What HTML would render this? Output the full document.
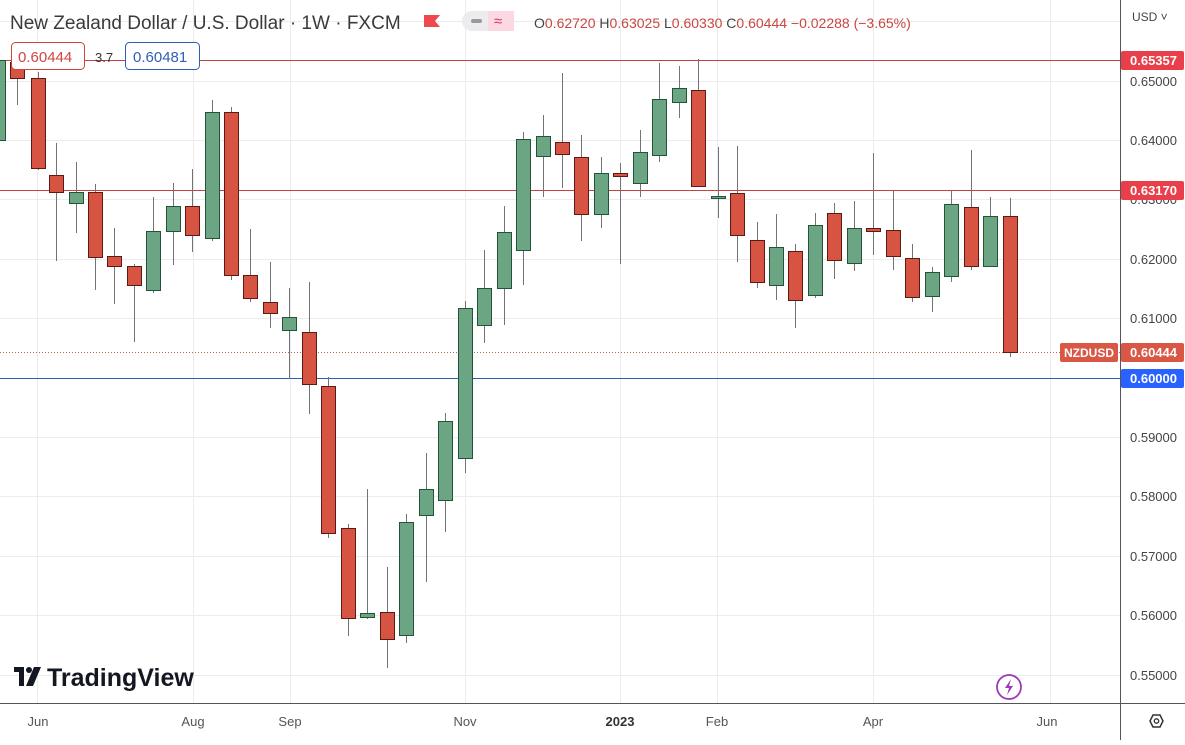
<!DOCTYPE html>
<html><head><meta charset="utf-8"><style>
html,body{margin:0;padding:0;background:#fff;}
body{width:1185px;height:740px;overflow:hidden;font-family:"Liberation Sans",sans-serif;}
.w line{stroke:#737375;stroke-width:1}
.g{fill:#6ba583;stroke:#225437;stroke-width:1}
.r{fill:#d75442;stroke:#5b1a13;stroke-width:1}
</style></head><body>
<svg width="1185" height="740" viewBox="0 0 1185 740" xmlns="http://www.w3.org/2000/svg" font-family="Liberation Sans, sans-serif">
<rect width="1185" height="740" fill="#fff"/>
<g stroke="#ececee" stroke-width="1">
<line x1="0" y1="21.5" x2="1120" y2="21.5"/>
<line x1="0" y1="81.5" x2="1120" y2="81.5"/>
<line x1="0" y1="140.5" x2="1120" y2="140.5"/>
<line x1="0" y1="199.5" x2="1120" y2="199.5"/>
<line x1="0" y1="259.5" x2="1120" y2="259.5"/>
<line x1="0" y1="318.5" x2="1120" y2="318.5"/>
<line x1="0" y1="437.5" x2="1120" y2="437.5"/>
<line x1="0" y1="496.5" x2="1120" y2="496.5"/>
<line x1="0" y1="556.5" x2="1120" y2="556.5"/>
<line x1="0" y1="615.5" x2="1120" y2="615.5"/>
<line x1="0" y1="675.5" x2="1120" y2="675.5"/>
<line x1="37.5" y1="0" x2="37.5" y2="703"/>
<line x1="193.5" y1="0" x2="193.5" y2="703"/>
<line x1="290.5" y1="0" x2="290.5" y2="703"/>
<line x1="465.5" y1="0" x2="465.5" y2="703"/>
<line x1="620.5" y1="0" x2="620.5" y2="703"/>
<line x1="717.5" y1="0" x2="717.5" y2="703"/>
<line x1="873.5" y1="0" x2="873.5" y2="703"/>
<line x1="1050.5" y1="0" x2="1050.5" y2="703"/>
</g>
<line x1="0" y1="60.5" x2="1120" y2="60.5" stroke="#c8403f" stroke-width="1"/>
<line x1="0" y1="190.5" x2="1120" y2="190.5" stroke="#c8403f" stroke-width="1"/>
<line x1="0" y1="378.5" x2="1120" y2="378.5" stroke="#2f5fb3" stroke-width="1"/>
<line x1="0" y1="352.5" x2="1120" y2="352.5" stroke="#c0614e" stroke-width="1" stroke-dasharray="1,2"/>
<g class="w">
<line x1="-1.5" y1="45" x2="-1.5" y2="145"/>
<line x1="17.5" y1="52" x2="17.5" y2="105"/>
<line x1="38.5" y1="72" x2="38.5" y2="170"/>
<line x1="56.5" y1="143" x2="56.5" y2="261"/>
<line x1="76.5" y1="162" x2="76.5" y2="233"/>
<line x1="95.5" y1="184" x2="95.5" y2="290"/>
<line x1="114.5" y1="228" x2="114.5" y2="304"/>
<line x1="134.5" y1="264" x2="134.5" y2="342"/>
<line x1="153.5" y1="197" x2="153.5" y2="293"/>
<line x1="173.5" y1="183" x2="173.5" y2="265"/>
<line x1="192.5" y1="169" x2="192.5" y2="252"/>
<line x1="212.5" y1="100" x2="212.5" y2="241"/>
<line x1="231.5" y1="107" x2="231.5" y2="280"/>
<line x1="250.5" y1="229" x2="250.5" y2="302"/>
<line x1="270.5" y1="262" x2="270.5" y2="328"/>
<line x1="289.5" y1="288" x2="289.5" y2="379"/>
<line x1="309.5" y1="282" x2="309.5" y2="414"/>
<line x1="328.5" y1="377" x2="328.5" y2="538"/>
<line x1="348.5" y1="524" x2="348.5" y2="636"/>
<line x1="367.5" y1="489" x2="367.5" y2="619"/>
<line x1="387.5" y1="567" x2="387.5" y2="668"/>
<line x1="406.5" y1="514" x2="406.5" y2="643"/>
<line x1="426.5" y1="453" x2="426.5" y2="582"/>
<line x1="445.5" y1="413" x2="445.5" y2="532"/>
<line x1="465.5" y1="301" x2="465.5" y2="473"/>
<line x1="484.5" y1="250" x2="484.5" y2="343"/>
<line x1="504.5" y1="206" x2="504.5" y2="325"/>
<line x1="523.5" y1="132" x2="523.5" y2="285"/>
<line x1="543.5" y1="115" x2="543.5" y2="197"/>
<line x1="562.5" y1="73" x2="562.5" y2="188"/>
<line x1="581.5" y1="135" x2="581.5" y2="241"/>
<line x1="601.5" y1="157" x2="601.5" y2="228"/>
<line x1="620.5" y1="163" x2="620.5" y2="264"/>
<line x1="640.5" y1="130" x2="640.5" y2="197"/>
<line x1="659.5" y1="63" x2="659.5" y2="162"/>
<line x1="679.5" y1="66" x2="679.5" y2="118"/>
<line x1="698.5" y1="59" x2="698.5" y2="186"/>
<line x1="718.5" y1="147" x2="718.5" y2="218"/>
<line x1="737.5" y1="146" x2="737.5" y2="262"/>
<line x1="757.5" y1="222" x2="757.5" y2="288"/>
<line x1="776.5" y1="214" x2="776.5" y2="300"/>
<line x1="795.5" y1="244" x2="795.5" y2="328"/>
<line x1="815.5" y1="213" x2="815.5" y2="298"/>
<line x1="834.5" y1="203" x2="834.5" y2="279"/>
<line x1="854.5" y1="201" x2="854.5" y2="271"/>
<line x1="873.5" y1="153" x2="873.5" y2="255"/>
<line x1="893.5" y1="190" x2="893.5" y2="270"/>
<line x1="912.5" y1="244" x2="912.5" y2="302"/>
<line x1="932.5" y1="267" x2="932.5" y2="312"/>
<line x1="951.5" y1="190" x2="951.5" y2="282"/>
<line x1="971.5" y1="150" x2="971.5" y2="270"/>
<line x1="990.5" y1="197" x2="990.5" y2="266"/>
<line x1="1010.5" y1="198" x2="1010.5" y2="357"/>
</g>
<rect class="g" x="-8.5" y="60.5" width="14" height="80"/>
<rect class="r" x="10.5" y="62.5" width="14" height="16"/>
<rect class="r" x="31.5" y="78.5" width="14" height="90"/>
<rect class="r" x="49.5" y="175.5" width="14" height="17"/>
<rect class="g" x="69.5" y="192.5" width="14" height="11"/>
<rect class="r" x="88.5" y="192.5" width="14" height="65"/>
<rect class="r" x="107.5" y="256.5" width="14" height="10"/>
<rect class="r" x="127.5" y="266.5" width="14" height="19"/>
<rect class="g" x="146.5" y="231.5" width="14" height="59"/>
<rect class="g" x="166.5" y="206.5" width="14" height="25"/>
<rect class="r" x="185.5" y="206.5" width="14" height="29"/>
<rect class="g" x="205.5" y="112.5" width="14" height="126"/>
<rect class="r" x="224.5" y="112.5" width="14" height="163"/>
<rect class="r" x="243.5" y="275.5" width="14" height="23"/>
<rect class="r" x="263.5" y="302.5" width="14" height="11"/>
<rect class="g" x="282.5" y="317.5" width="14" height="13"/>
<rect class="r" x="302.5" y="332.5" width="14" height="52"/>
<rect class="r" x="321.5" y="386.5" width="14" height="147"/>
<rect class="r" x="341.5" y="528.5" width="14" height="90"/>
<rect class="g" x="360.5" y="613.5" width="14" height="4"/>
<rect class="r" x="380.5" y="612.5" width="14" height="27"/>
<rect class="g" x="399.5" y="522.5" width="14" height="113"/>
<rect class="g" x="419.5" y="489.5" width="14" height="26"/>
<rect class="g" x="438.5" y="421.5" width="14" height="79"/>
<rect class="g" x="458.5" y="308.5" width="14" height="150"/>
<rect class="g" x="477.5" y="288.5" width="14" height="37"/>
<rect class="g" x="497.5" y="232.5" width="14" height="56"/>
<rect class="g" x="516.5" y="139.5" width="14" height="111"/>
<rect class="g" x="536.5" y="136.5" width="14" height="20"/>
<rect class="r" x="555.5" y="142.5" width="14" height="12"/>
<rect class="r" x="574.5" y="157.5" width="14" height="57"/>
<rect class="g" x="594.5" y="173.5" width="14" height="41"/>
<rect class="r" x="613.5" y="173.5" width="14" height="3"/>
<rect class="g" x="633.5" y="152.5" width="14" height="31"/>
<rect class="g" x="652.5" y="99.5" width="14" height="56"/>
<rect class="g" x="672.5" y="88.5" width="14" height="14"/>
<rect class="r" x="691.5" y="90.5" width="14" height="96"/>
<rect class="g" x="711.5" y="196.5" width="14" height="2"/>
<rect class="r" x="730.5" y="193.5" width="14" height="42"/>
<rect class="r" x="750.5" y="240.5" width="14" height="42"/>
<rect class="g" x="769.5" y="247.5" width="14" height="38"/>
<rect class="r" x="788.5" y="251.5" width="14" height="49"/>
<rect class="g" x="808.5" y="225.5" width="14" height="70"/>
<rect class="r" x="827.5" y="213.5" width="14" height="47"/>
<rect class="g" x="847.5" y="228.5" width="14" height="35"/>
<rect class="r" x="866.5" y="228.5" width="14" height="3"/>
<rect class="r" x="886.5" y="230.5" width="14" height="26"/>
<rect class="r" x="905.5" y="258.5" width="14" height="39"/>
<rect class="g" x="925.5" y="272.5" width="14" height="24"/>
<rect class="g" x="944.5" y="204.5" width="14" height="72"/>
<rect class="r" x="964.5" y="207.5" width="14" height="59"/>
<rect class="g" x="983.5" y="216.5" width="14" height="50"/>
<rect class="r" x="1003.5" y="216.5" width="14" height="136"/>
<line x1="1120.5" y1="0" x2="1120.5" y2="740" stroke="#555" stroke-width="1"/>
<line x1="0" y1="703.5" x2="1185" y2="703.5" stroke="#555" stroke-width="1"/>
<g font-size="13" fill="#444" text-anchor="start">
<text x="1130" y="86">0.65000</text>
<text x="1130" y="145">0.64000</text>
<text x="1130" y="204">0.63000</text>
<text x="1130" y="264">0.62000</text>
<text x="1130" y="323">0.61000</text>
<text x="1130" y="442">0.59000</text>
<text x="1130" y="501">0.58000</text>
<text x="1130" y="561">0.57000</text>
<text x="1130" y="620">0.56000</text>
<text x="1130" y="680">0.55000</text>
<text x="1132" y="21" font-size="12">USD ˅</text>
</g>
<rect x="1121" y="51" width="63" height="19" rx="2" fill="#e83f4a"/>
<text x="1130" y="65" font-size="13" font-weight="bold" fill="#fff">0.65357</text>
<rect x="1121" y="181" width="63" height="19" rx="2" fill="#e83f4a"/>
<text x="1130" y="195" font-size="13" font-weight="bold" fill="#fff">0.63170</text>
<rect x="1060" y="343" width="58" height="19" rx="2" fill="#d95745"/>
<text x="1064" y="357" font-size="12" font-weight="bold" fill="#fff">NZDUSD</text>
<rect x="1121" y="343" width="63" height="19" rx="2" fill="#d95745"/>
<text x="1130" y="357" font-size="13" font-weight="bold" fill="#fff">0.60444</text>
<rect x="1121" y="369" width="63" height="19" rx="2" fill="#2962ff"/>
<text x="1130" y="383" font-size="13" font-weight="bold" fill="#fff">0.60000</text>
<g font-size="13" fill="#555" text-anchor="middle">
<text x="38" y="726">Jun</text>
<text x="193" y="726">Aug</text>
<text x="290" y="726">Sep</text>
<text x="465" y="726">Nov</text>
<text x="620" y="726" font-weight="bold" fill="#333">2023</text>
<text x="717" y="726">Feb</text>
<text x="873" y="726">Apr</text>
<text x="1047" y="726">Jun</text>
</g>
<polygon points="1150,721 1153,715 1160,715 1163,721 1160,727 1153,727" fill="none" stroke="#333" stroke-width="1.5"/>
<circle cx="1156.5" cy="721" r="2.2" fill="none" stroke="#333" stroke-width="1.3"/>
<text x="10" y="29" font-size="19" fill="#3a3a3a">New Zealand Dollar / U.S. Dollar · 1W · FXCM</text>
<path d="M424 15 h16 l-5 6 l5 6 h-16z" fill="#f0484f"/>
<rect x="462" y="11" width="52" height="20" rx="10" fill="#ececee"/>
<rect x="488" y="11" width="26" height="20" fill="#fbd8e2"/>
<rect x="471" y="19" width="11" height="4" rx="2" fill="#999"/>
<text x="494" y="26" font-size="15" fill="#e0306a">≈</text>
<text x="534" y="28" font-size="14" fill="#444">O<tspan fill="#c9463f">0.62720</tspan> H<tspan fill="#c9463f">0.63025</tspan> L<tspan fill="#c9463f">0.60330</tspan> C<tspan fill="#c9463f">0.60444</tspan> <tspan fill="#c9463f">−0.02288 (−3.65%)</tspan></text>
<rect x="11.5" y="42.5" width="73" height="27" rx="4" fill="#fff" stroke="#d0453f"/>
<text x="18" y="62" font-size="15" fill="#d0453f">0.60444</text>
<text x="95" y="62" font-size="13" fill="#333">3.7</text>
<rect x="125.5" y="42.5" width="74" height="27" rx="4" fill="#fff" stroke="#2f5fb3"/>
<text x="133" y="62" font-size="15" fill="#2f5fb3">0.60481</text>
<g transform="translate(14,667)">
<rect x="0" y="0" width="10" height="5" fill="#131722"/>
<rect x="5" y="0" width="5" height="19" fill="#131722"/>
<circle cx="15" cy="3" r="3" fill="#131722"/>
<polygon points="20,0 27,0 19,19 12,19" fill="#131722"/>
<text x="33" y="19" font-size="25" font-weight="bold" fill="#131722">TradingView</text>
</g>
<circle cx="1009" cy="687" r="12" fill="#fff" stroke="#9c39b8" stroke-width="1.8"/>
<path d="M1011 679 l-6 9 h4 l-2 7 l6 -9 h-4z" fill="#9c39b8"/>
</svg>
</body></html>
